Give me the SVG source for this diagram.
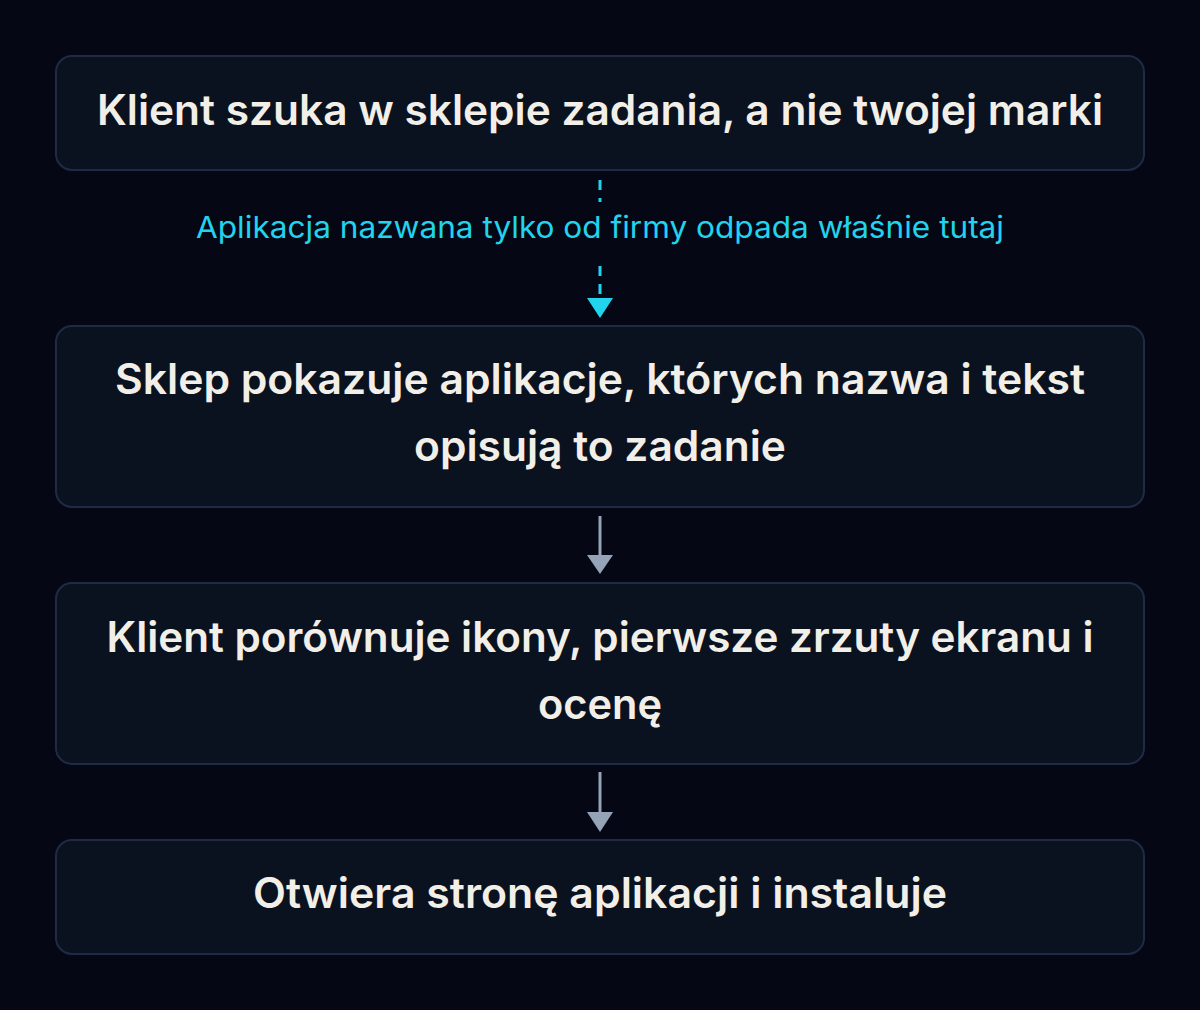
<svg xmlns="http://www.w3.org/2000/svg" width="1200" height="1010" viewBox="0 0 1200 1010">
<defs>
<style>
.box{fill:#0a1220;stroke:#1f2b45;stroke-width:2}
.t{font-family:Inter,"Noto Sans","Liberation Sans",sans-serif;font-size:42px;font-weight:600;fill:#f2efe8;text-anchor:middle}
.lbl{font-family:Inter,"Noto Sans","Liberation Sans",sans-serif;font-size:30px;font-weight:400;fill:#22d3ee;text-anchor:middle}
.gl{stroke:#94a3b8;stroke-width:3;fill:none}
.cl{stroke:#22d3ee;stroke-width:3;fill:none;stroke-dasharray:10 8}
</style>
</defs>
<rect width="1200" height="1010" fill="#050814"/>
<g id="connectors">
<path class="cl" d="M600,180 V202"/>
<path class="cl" d="M600,266 V300"/>
<path d="M587,298 L613,298 L600,318 Z" fill="#22d3ee"/>
<text class="lbl" x="600" y="238" textLength="808" lengthAdjust="spacingAndGlyphs">Aplikacja nazwana tylko od firmy odpada właśnie tutaj</text>
<path class="gl" d="M600,516 V556"/>
<path d="M587,555 L613,555 L600,574 Z" fill="#94a3b8"/>
<path class="gl" d="M600,772 V813"/>
<path d="M587,812 L613,812 L600,832 Z" fill="#94a3b8"/>
</g>
<g id="n1">
<rect class="box" x="56" y="56" width="1088" height="114" rx="16"/>
<text class="t" x="600" y="125" textLength="1006" lengthAdjust="spacingAndGlyphs">Klient szuka w sklepie zadania, a nie twojej marki</text>
</g>
<g id="n2">
<rect class="box" x="56" y="326" width="1088" height="181" rx="16"/>
<text class="t" x="600" y="394" textLength="970" lengthAdjust="spacingAndGlyphs">Sklep pokazuje aplikacje, których nazwa i tekst</text>
<text class="t" x="600" y="461" textLength="372" lengthAdjust="spacingAndGlyphs">opisują to zadanie</text>
</g>
<g id="n3">
<rect class="box" x="56" y="583" width="1088" height="181" rx="16"/>
<text class="t" x="600" y="652" textLength="987" lengthAdjust="spacingAndGlyphs">Klient porównuje ikony, pierwsze zrzuty ekranu i</text>
<text class="t" x="600" y="719" textLength="124" lengthAdjust="spacingAndGlyphs">ocenę</text>
</g>
<g id="n4">
<rect class="box" x="56" y="840" width="1088" height="114" rx="16"/>
<text class="t" x="600" y="908" textLength="694" lengthAdjust="spacingAndGlyphs">Otwiera stronę aplikacji i instaluje</text>
</g>
</svg>
